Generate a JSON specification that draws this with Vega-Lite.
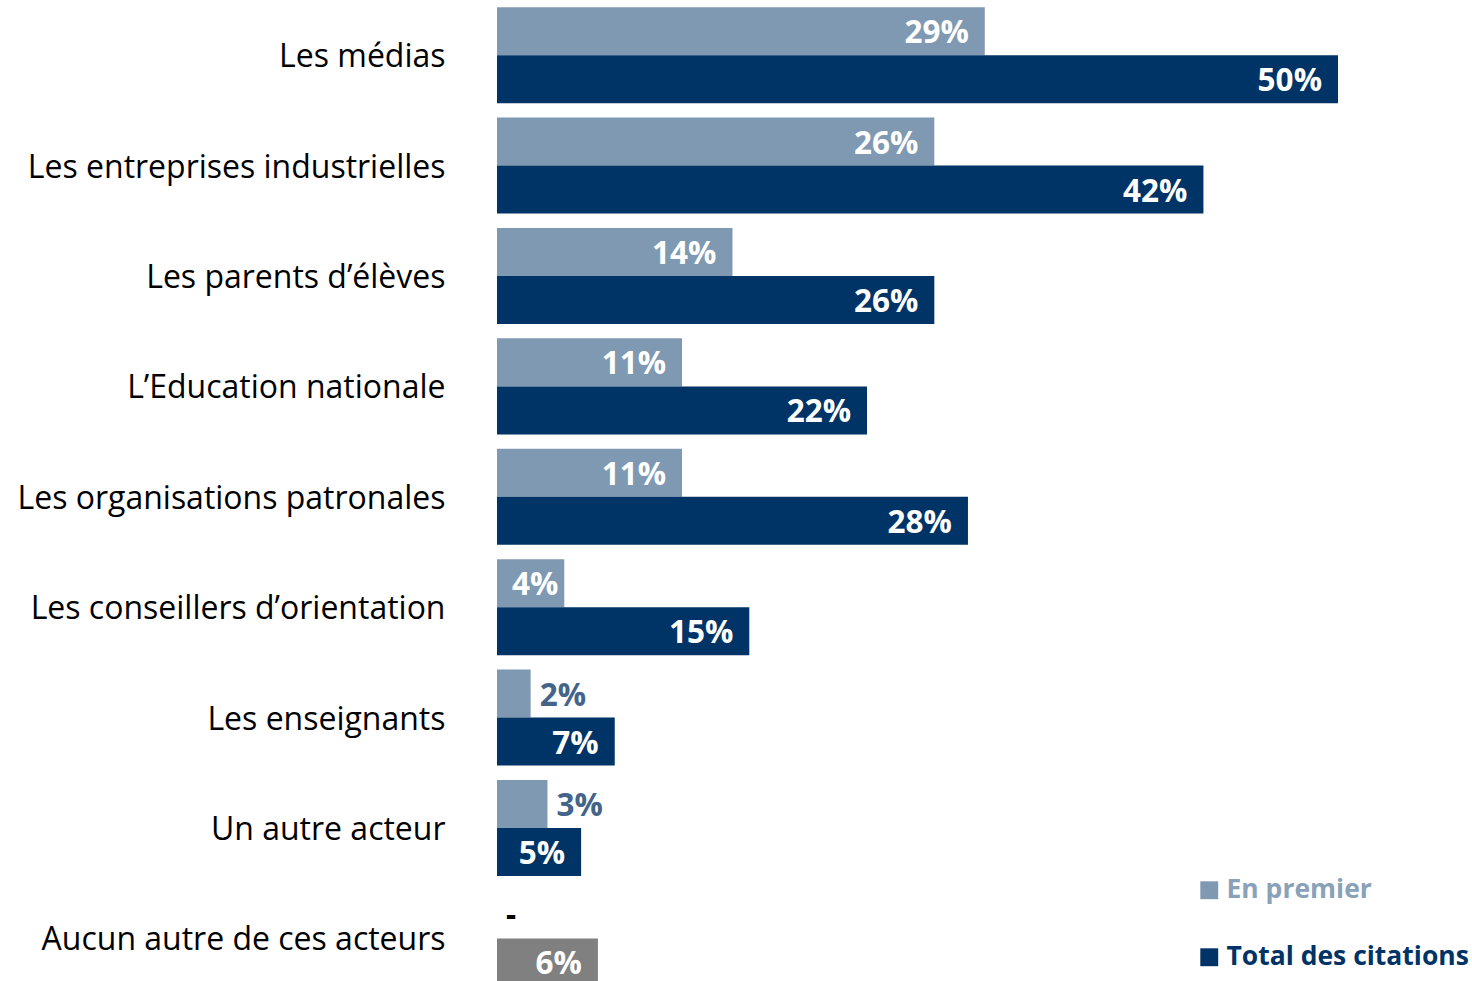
{
  "$schema": "https://vega.github.io/schema/vega-lite/v6.json",
  "width": 841,
  "height": 993.6,
  "autosize": {"type": "none"},
  "padding": {"left": 497, "top": 0, "right": 134, "bottom": 0},
  "background": "white",
  "config": {"view": {"stroke": null}, "font": "Open Sans"},
  "data": {
    "values": [
      {"acteur": "Les médias", "rang": "premier", "serie": "En premier", "valeur": 29, "label": "29%"},
      {"acteur": "Les médias", "rang": "total", "serie": "Total des citations", "valeur": 50, "label": "50%"},
      {"acteur": "Les entreprises industrielles", "rang": "premier", "serie": "En premier", "valeur": 26, "label": "26%"},
      {"acteur": "Les entreprises industrielles", "rang": "total", "serie": "Total des citations", "valeur": 42, "label": "42%"},
      {"acteur": "Les parents d’élèves", "rang": "premier", "serie": "En premier", "valeur": 14, "label": "14%"},
      {"acteur": "Les parents d’élèves", "rang": "total", "serie": "Total des citations", "valeur": 26, "label": "26%"},
      {"acteur": "L’Education nationale", "rang": "premier", "serie": "En premier", "valeur": 11, "label": "11%"},
      {"acteur": "L’Education nationale", "rang": "total", "serie": "Total des citations", "valeur": 22, "label": "22%"},
      {"acteur": "Les organisations patronales", "rang": "premier", "serie": "En premier", "valeur": 11, "label": "11%"},
      {"acteur": "Les organisations patronales", "rang": "total", "serie": "Total des citations", "valeur": 28, "label": "28%"},
      {"acteur": "Les conseillers d’orientation", "rang": "premier", "serie": "En premier", "valeur": 4, "label": "4%"},
      {"acteur": "Les conseillers d’orientation", "rang": "total", "serie": "Total des citations", "valeur": 15, "label": "15%"},
      {"acteur": "Les enseignants", "rang": "premier", "serie": "En premier", "valeur": 2, "label": "2%"},
      {"acteur": "Les enseignants", "rang": "total", "serie": "Total des citations", "valeur": 7, "label": "7%"},
      {"acteur": "Un autre acteur", "rang": "premier", "serie": "En premier", "valeur": 3, "label": "3%"},
      {"acteur": "Un autre acteur", "rang": "total", "serie": "Total des citations", "valeur": 5, "label": "5%"},
      {"acteur": "Aucun autre de ces acteurs", "rang": "premier", "serie": "En premier", "valeur": 0, "label": "-"},
      {"acteur": "Aucun autre de ces acteurs", "rang": "total", "serie": "Aucun", "valeur": 6, "label": "6%"}
    ]
  },
  "encoding": {
    "y": {
      "field": "acteur",
      "type": "nominal",
      "sort": null,
      "scale": {"paddingInner": 0.13, "paddingOuter": 0.065},
      "axis": {
        "title": null,
        "domain": false,
        "ticks": false,
        "labelFont": "Open Sans",
        "labelFontSize": 32,
        "labelColor": "#000000",
        "labelPadding": 52,
        "labelOffset": 2,
        "labelLimit": 600
      }
    },
    "yOffset": {
      "field": "rang",
      "type": "nominal",
      "sort": ["premier", "total"],
      "scale": {"paddingInner": 0, "paddingOuter": 0}
    },
    "x": {
      "field": "valeur",
      "type": "quantitative",
      "scale": {"domain": [0, 50]},
      "axis": null
    }
  },
  "layer": [
    {
      "mark": {"type": "bar"},
      "encoding": {
        "color": {
          "field": "serie",
          "type": "nominal",
          "scale": {
            "domain": ["En premier", "Total des citations", "Aucun"],
            "range": ["#7f99b3", "#003366", "#808080"]
          },
          "legend": {
            "values": ["En premier", "Total des citations"],
            "title": null,
            "orient": "none",
            "legendX": 699,
            "legendY": 877,
            "symbolType": "square",
            "symbolSize": 320,
            "symbolStrokeWidth": 0,
            "symbolOpacity": 1,
            "labelFont": "Open Sans",
            "labelFontSize": 26.5,
            "labelFontWeight": "bold",
            "labelOffset": 4,
            "labelLimit": 400,
            "rowPadding": 40,
            "labelColor": {"expr": "datum.label == 'En premier' ? '#8aa1ba' : '#003366'"}
          }
        }
      }
    },
    {
      "transform": [{"filter": "datum.valeur > 4"}],
      "mark": {"type": "text", "align": "right", "baseline": "middle", "dx": -16, "dy": 3, "font": "Open Sans", "fontWeight": "bold", "fontSize": 31.5, "color": "#ffffff"},
      "encoding": {"text": {"field": "label"}}
    },
    {
      "transform": [{"filter": "datum.valeur == 4"}],
      "mark": {"type": "text", "align": "right", "baseline": "middle", "dx": -6, "dy": 3, "font": "Open Sans", "fontWeight": "bold", "fontSize": 31.5, "color": "#ffffff"},
      "encoding": {"text": {"field": "label"}}
    },
    {
      "transform": [{"filter": "datum.valeur < 4"}],
      "mark": {"type": "text", "align": "left", "baseline": "middle", "dx": 9, "dy": 3, "font": "Open Sans", "fontWeight": "bold", "fontSize": 31.5},
      "encoding": {
        "text": {"field": "label"},
        "color": {"condition": {"test": "datum.valeur == 0", "value": "#000000"}, "value": "#44648a"}
      }
    }
  ]
}
